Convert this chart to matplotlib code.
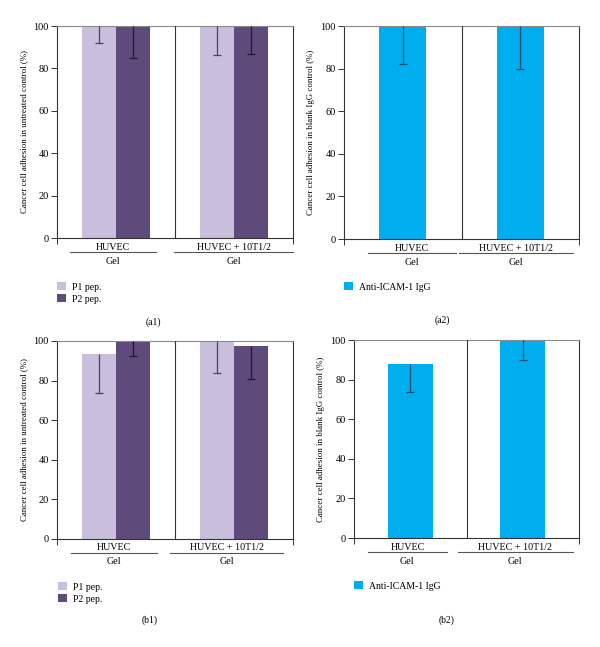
import numpy as np
import matplotlib
matplotlib.use('Agg')
import matplotlib.pyplot as plt

plt.rcParams['font.family'] = ['Liberation Serif', 'DejaVu Serif']

# ---- data
groups = ['HUVEC', 'HUVEC + 10T1/2']
sub_label = 'Gel'

a1_p1 = [100.0, 100.0]
a1_p1_err = [8.0, 13.5]
a1_p2 = [100.0, 100.0]
a1_p2_err = [15.0, 13.0]

a2_igg = [100.0, 100.0]
a2_igg_err = [17.8, 20.2]

b1_p1 = [93.3, 100.0]
b1_p1_err = [19.6, 16.0]
b1_p2 = [100.0, 97.6]
b1_p2_err = [7.4, 16.8]

b2_igg = [87.9, 100.0]
b2_igg_err = [14.3, 10.1]

yticks = [0, 20, 40, 60, 80, 100]

P1_COL = '#c9bfdc'
P2_COL = '#5e4a7b'
IGG_COL = '#00aeef'

W, H = 600, 647
fig = plt.figure(figsize=(6.0, 6.47), dpi=100)


def px_axes(left, right, top, bottom):
    return fig.add_axes([left / W, (H - bottom) / H, (right - left) / W, (bottom - top) / H])


def draw_err(ax, x, y, err, col):
    eb = ax.errorbar(x, y, yerr=[err, np.zeros(len(err))], fmt='none',
                     ecolor=col, elinewidth=0.9, capsize=3, capthick=0.9, zorder=3)
    # one-sided bars: hide the upper caps
    eb[1][1].set_visible(False)


def style_axes(ax, ylabel, hpx, lines):
    ax.set_xlim(0, 2)
    ax.set_ylim(0, 100)
    ax.set_yticks(yticks)
    ax.set_xticks([0, 2])
    ax.set_xticklabels([])
    ax.tick_params(axis='both', labelsize=7.4, length=4, width=0.7, color='#333333', pad=2)
    for s in ['left', 'right', 'bottom']:
        ax.spines[s].set_color('#333333')
        ax.spines[s].set_linewidth(0.8)
    ax.spines['top'].set_color('#8a8a8a')
    ax.spines['top'].set_linewidth(0.8)
    ax.axvline(1, color='#333333', lw=0.8, zorder=4)
    ax.set_ylabel(ylabel, fontsize=6.4, labelpad=4)
    for i, g in enumerate(groups):
        cx = (lines[i][0] + lines[i][1]) / 2
        ax.text(cx, -9.0 / hpx, g, transform=ax.transAxes, ha='center', va='center', fontsize=7.2)
        ax.text(cx, -23.0 / hpx, sub_label, transform=ax.transAxes, ha='center', va='center', fontsize=7.2)
        ax.plot(lines[i], [-14.0 / hpx] * 2, transform=ax.transAxes, color='#555555',
                lw=0.8, clip_on=False)


centers = np.array([0.5, 1.5])
pw = 0.288

# (a1)
ax = px_axes(57, 293, 26, 238)
b_p1 = ax.bar(centers - pw / 2, a1_p1, width=pw, color=P1_COL, label='P1 pep.', zorder=2)
b_p2 = ax.bar(centers + pw / 2, a1_p2, width=pw, color=P2_COL, label='P2 pep.', zorder=2)
draw_err(ax, centers - pw / 2, a1_p1, a1_p1_err, '#4d3f5e')
draw_err(ax, centers + pw / 2, a1_p2, a1_p2_err, '#24182f')
style_axes(ax, 'Cancer cell adhesion in untreated control (%)', 212,
           [(0.055, 0.42), (0.496, 1.0)])
fig.legend(handles=[b_p1, b_p2], loc='upper left', bbox_to_anchor=(57 / W, (H - 282) / H),
           frameon=False, fontsize=7, handlelength=0.95, handleheight=0.95,
           labelspacing=0.25, handletextpad=0.6, borderpad=0, borderaxespad=0)
fig.text(153 / W, (H - 322) / H, '(a1)', ha='center', va='center', fontsize=7)

# (a2)
ax = px_axes(344, 579, 26, 239)
b_igg = ax.bar(centers, a2_igg, width=0.4, color=IGG_COL, label='Anti-ICAM-1 IgG', zorder=2)
draw_err(ax, centers, a2_igg, a2_igg_err, '#174a6b')
style_axes(ax, 'Cancer cell adhesion in blank IgG control (%)', 213,
           [(0.102, 0.477), (0.489, 0.974)])
fig.legend(handles=[b_igg], loc='upper left', bbox_to_anchor=(344 / W, (H - 282) / H),
           frameon=False, fontsize=7, handlelength=0.95, handleheight=0.95,
           handletextpad=0.6, borderpad=0, borderaxespad=0)
fig.text(442 / W, (H - 320) / H, '(a2)', ha='center', va='center', fontsize=7)

# (b1)
ax = px_axes(57, 293, 341, 539)
b_p1 = ax.bar(centers - pw / 2, b1_p1, width=pw, color=P1_COL, label='P1 pep.', zorder=2)
b_p2 = ax.bar(centers + pw / 2, b1_p2, width=pw, color=P2_COL, label='P2 pep.', zorder=2)
draw_err(ax, centers - pw / 2, b1_p1, b1_p1_err, '#4d3f5e')
draw_err(ax, centers + pw / 2, b1_p2, b1_p2_err, '#24182f')
style_axes(ax, 'Cancer cell adhesion in untreated control (%)', 198,
           [(0.059, 0.424), (0.479, 0.958)])
fig.legend(handles=[b_p1, b_p2], loc='upper left', bbox_to_anchor=(58 / W, (H - 582) / H),
           frameon=False, fontsize=7, handlelength=0.95, handleheight=0.95,
           labelspacing=0.25, handletextpad=0.6, borderpad=0, borderaxespad=0)
fig.text(150 / W, (H - 620) / H, '(b1)', ha='center', va='center', fontsize=7)

# (b2)
ax = px_axes(354, 579, 340, 538)
b_igg = ax.bar(centers, b2_igg, width=0.4, color=IGG_COL, label='Anti-ICAM-1 IgG', zorder=2)
draw_err(ax, centers, b2_igg, b2_igg_err, '#174a6b')
style_axes(ax, 'Cancer cell adhesion in blank IgG control (%)', 198,
           [(0.062, 0.413), (0.462, 0.973)])
fig.legend(handles=[b_igg], loc='upper left', bbox_to_anchor=(354 / W, (H - 581) / H),
           frameon=False, fontsize=7, handlelength=0.95, handleheight=0.95,
           handletextpad=0.6, borderpad=0, borderaxespad=0)
fig.text(447 / W, (H - 620) / H, '(b2)', ha='center', va='center', fontsize=7)

fig.savefig('out.png', dpi=100)
